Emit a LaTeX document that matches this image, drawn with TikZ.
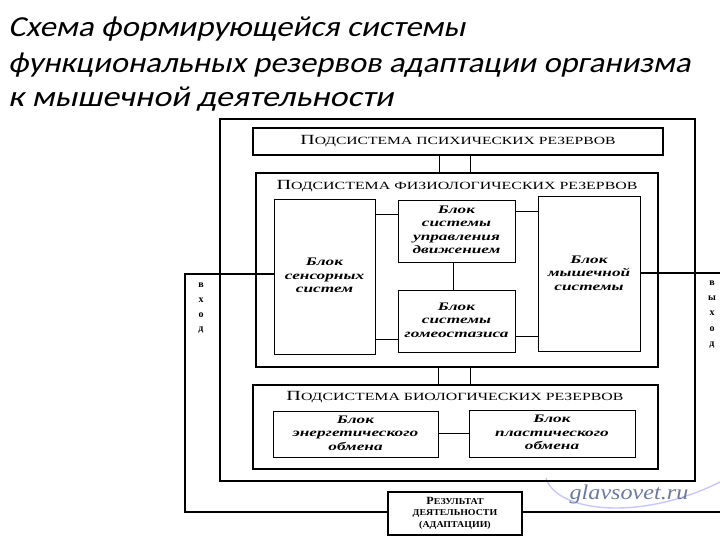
\documentclass[tikz,border=0pt]{standalone}
\usepackage{graphicx}
\usepackage{fontspec}
\setmainfont{Liberation Serif}
\newfontfamily\titlefont[FakeSlant=0.2]{Carlito}
\newcommand\fsc[3]{\resizebox{#1}{\height}{{\fontsize{14}{14}\selectfont #2}{\fontsize{11}{11}\selectfont #3}}}
\newcommand\bt[1]{\scalebox{1.5}[1]{\begin{tabular}{@{}c@{}}#1\end{tabular}}}
\newcommand\ttl[2]{\resizebox{#1}{\height}{\titlefont\fontsize{29}{29}\selectfont #2}}
\begin{document}
\begin{tikzpicture}[x=1pt,y=-1pt,
  blk/.style={draw, line width=0.9pt, fill=white, inner sep=0pt, align=center,
    font=\fontsize{11.5}{13.5}\selectfont\itshape\bfseries},
  sub/.style={draw, line width=1.1pt, inner sep=0pt},
  ln/.style={line width=0.9pt},
  lett/.style={font=\fontsize{10}{10}\selectfont\bfseries, inner sep=0pt}]
\useasboundingbox (0,0) rectangle (720,540);
\fill[white] (0,0) rectangle (720,540);
% title
\node[anchor=base west, inner sep=0pt] (t1) at (8,37) {\ttl{457pt}{Схема формирующейся системы}};
\node[anchor=base west, inner sep=0pt] (t2) at (8,73) {\ttl{682pt}{функциональных резервов адаптации организма}};
\node[anchor=base west, inner sep=0pt] (t3) at (8,107) {\ttl{385pt}{к мышечной деятельности}};
% watermark swoosh
\draw[blue!22, line width=1.4pt] (546,478) .. controls (556,512) and (640,522) .. (720,482);
% outer frame
\node[draw, line width=2.2pt, minimum width=475pt, minimum height=362pt, inner sep=0pt] (outer) at (457.5,300) {};
% subsystems
\node[sub, minimum width=410pt, minimum height=27pt] (psych) at (458,141.5)
  {\fsc{315pt}{П}{ОДСИСТЕМА ПСИХИЧЕСКИХ РЕЗЕРВОВ}};
\node[sub, minimum width=402pt, minimum height=194pt] (physio) at (457,270) {};
\node[inner sep=0pt] (physt) at (457,186) {\fsc{361pt}{П}{ОДСИСТЕМА  ФИЗИОЛОГИЧЕСКИХ  РЕЗЕРВОВ}};
\node[sub, minimum width=405pt, minimum height=84pt] (bio) at (455.5,427) {};
\node[inner sep=0pt] (biot) at (455,397) {\fsc{337pt}{П}{ОДСИСТЕМА  БИОЛОГИЧЕСКИХ  РЕЗЕРВОВ}};
% blocks
\node[blk, minimum width=101pt, minimum height=155pt] (sens) at (324.5,276.5) {\bt{Блок\\сенсорных\\систем}};
\node[blk, minimum width=117pt, minimum height=62pt] (motion) at (456.5,231) {\bt{Блок\\системы\\управления\\движением}};
\node[blk, minimum width=117pt, minimum height=62pt] (homeo) at (456.5,321) {\bt{Блок\\системы\\гомеостазиса}};
\node[blk, minimum width=102pt, minimum height=155pt] (muscle) at (589,274) {\bt{Блок\\мышечной\\системы}};
\node[blk, minimum width=165pt, minimum height=46pt] (energy) at (355.5,434) {\bt{Блок\\энергетического\\обмена}};
\node[blk, minimum width=166pt, minimum height=47pt] (plastic) at (552,433.5) {\bt{Блок\\пластического\\обмена}};
\node[draw, line width=1.1pt, minimum width=134pt, minimum height=43pt, inner sep=0pt, align=center, fill=white,
  font=\fontsize{9}{11.5}\selectfont\bfseries] (result) at (455,513.5)
  {\scalebox{1.1}[1]{\begin{tabular}{@{}c@{}}{\fontsize{11}{11}\selectfont Р}ЕЗУЛЬТАТ\\ДЕЯТЕЛЬНОСТИ\\(АДАПТАЦИИ)\end{tabular}}};
% connectors
\draw[ln] (psych.south -| 439,0) -- (physio.north -| 439,0);
\draw[ln] (psych.south -| 470,0) -- (physio.north -| 470,0);
\draw[ln] (physio.south -| 438,0) -- (bio.north -| 438,0);
\draw[ln] (physio.south -| 470,0) -- (bio.north -| 470,0);
\draw[ln] (sens.east |- 0,214) -- (motion.west |- 0,214);
\draw[ln] (motion.east |- 0,211) -- (muscle.west |- 0,211);
\draw[ln] (motion.south -| 453,0) -- (homeo.north -| 453,0);
\draw[ln] (sens.east |- 0,339) -- (homeo.west |- 0,339);
\draw[ln] (homeo.east |- 0,336) -- (muscle.west |- 0,336);
\draw[ln] (energy.east |- 0,433) -- (plastic.west |- 0,433);
% input / output
\coordinate (inA) at (185,274);
\coordinate (inB) at (185,512);
\coordinate (outA) at (720,273);
\coordinate (outB) at (720,512);
\draw[line width=1.3pt] (sens.west |- inA) -- (inA) -- (inB) -- (result.west |- inB);
\draw[line width=1.3pt] (muscle.east |- outA) -- (outA);
\draw[line width=1.3pt] (result.east |- outB) -- (outB);
\node[lett] (i1) at (201,285) {в};
\node[lett] (i2) at (201,300) {х};
\node[lett] (i3) at (201,315) {о};
\node[lett] (i4) at (201,330) {д};
\node[lett] (o1) at (712,283) {в};
\node[lett] (o2) at (712,298) {ы};
\node[lett] (o3) at (712,313) {х};
\node[lett] (o4) at (712,329) {о};
\node[lett] (o5) at (712,345) {д};
% watermark
\node[inner sep=0pt, text={rgb,1:red,0.42;green,0.48;blue,0.62}] (wm) at (629,494)
  {\scalebox{1.15}[1]{\fontsize{21}{21}\selectfont\itshape glavsovet.ru}};
\end{tikzpicture}
\end{document}
